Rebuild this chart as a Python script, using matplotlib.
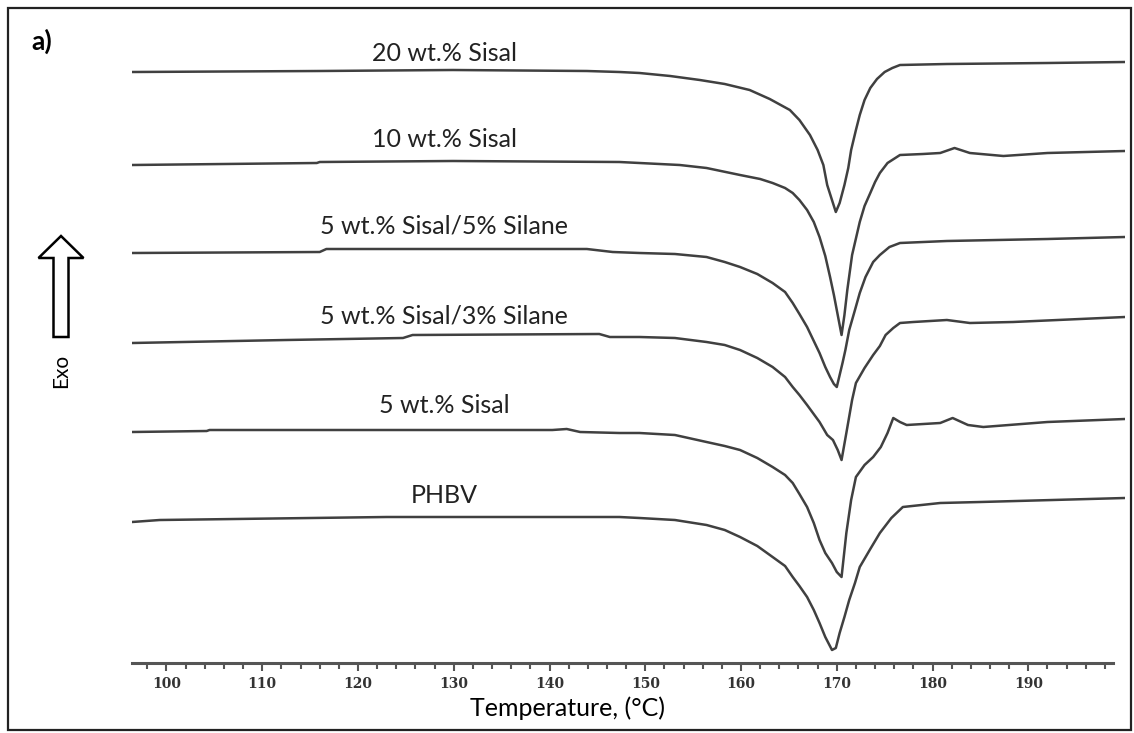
import matplotlib
matplotlib.use("Agg")
import matplotlib.pyplot as plt
from matplotlib.patches import FancyArrow, Rectangle

# DSC heating curves, heat flow in arbitrary units (curves stacked)
labels = ["20 wt.% Sisal", "10 wt.% Sisal", "5 wt.% Sisal/5% Silane",
          "5 wt.% Sisal/3% Silane", "5 wt.% Sisal", "PHBV"]
label_y = [60.2, 51.6, 43.0, 34.0, 25.0, 16.0]

t_20 = [96.4, 116.0, 129.9, 143.9, 147.3, 149.4, 152.6, 155.7, 158.3, 160.9, 163.0, 165.1,
        166.1, 167.2, 168.0, 168.6, 169.0, 169.5, 169.9, 170.3, 170.8, 171.2, 171.5, 172.0,
        172.4, 172.9, 173.5, 174.2, 175.0, 175.8, 176.6, 181.5, 192.0, 200.1]
hf_20 = [59.1, 59.2, 59.3, 59.2, 59.1, 59.0, 58.7, 58.3, 57.9, 57.3, 56.4, 55.3,
         54.3, 52.8, 51.3, 49.8, 47.8, 46.3, 45.1, 46.0, 47.8, 49.5, 51.3, 53.3,
         54.8, 56.3, 57.5, 58.4, 59.1, 59.5, 59.8, 59.9, 60.0, 60.1]

t_10 = [96.4, 115.7, 116.0, 129.9, 147.3, 149.4, 153.6, 156.4, 159.9, 162.0, 163.3, 164.6,
        165.4, 166.1, 166.9, 167.6, 168.2, 168.8, 169.3, 169.7, 170.0, 170.5, 170.8, 171.1,
        171.6, 172.4, 172.9, 173.5, 174.0, 174.5, 175.3, 176.6, 179.0, 180.8, 182.3, 183.9,
        187.4, 192.0, 200.1]
hf_10 = [49.8, 50.0, 50.1, 50.2, 50.1, 50.0, 49.8, 49.5, 48.8, 48.4, 48.0, 47.5,
         47.0, 46.3, 45.3, 44.1, 42.6, 40.7, 38.6, 36.8, 35.3, 32.8, 34.8, 37.3,
         40.8, 44.1, 45.7, 47.0, 48.1, 49.0, 50.0, 50.8, 50.9, 51.0, 51.5, 51.0,
         50.7, 51.0, 51.2]

t_5s5 = [96.4, 116.0, 116.7, 143.9, 146.6, 149.4, 153.1, 156.4, 158.3, 159.9, 161.7, 163.3,
         164.6, 165.4, 166.1, 166.9, 167.6, 168.2, 168.8, 169.3, 169.7, 170.0, 170.3, 170.6,
         170.9, 171.3, 171.9, 172.4, 173.0, 173.8, 174.5, 175.5, 176.6, 181.5, 192.0, 200.1]
hf_5s5 = [41.0, 41.1, 41.4, 41.4, 41.1, 41.0, 40.9, 40.6, 40.1, 39.6, 38.9, 38.0,
          37.1, 36.0, 34.9, 33.6, 32.2, 31.0, 29.6, 28.6, 27.9, 27.6, 28.8, 30.0,
          31.3, 33.3, 35.3, 37.0, 38.6, 40.1, 40.8, 41.6, 42.0, 42.2, 42.4, 42.6]

t_5s3 = [96.4, 112.5, 124.7, 125.7, 145.2, 146.3, 149.4, 153.1, 156.4, 158.3, 159.9, 161.7,
         163.3, 164.6, 165.4, 166.1, 166.9, 168.2, 169.0, 169.6, 170.1, 170.5, 171.0, 171.6,
         172.0, 172.9, 173.8, 174.5, 175.1, 175.9, 176.6, 178.0, 181.5, 183.9, 188.4, 200.1]
hf_5s3 = [32.0, 32.3, 32.5, 32.8, 32.9, 32.6, 32.6, 32.5, 32.1, 31.8, 31.3, 30.5,
          29.6, 28.6, 27.6, 26.8, 25.8, 24.1, 22.8, 22.3, 21.3, 20.3, 23.0, 26.3,
          28.0, 29.5, 30.8, 31.7, 32.8, 33.5, 34.0, 34.1, 34.3, 34.0, 34.1, 34.6]

t_5 = [96.4, 104.2, 104.5, 140.3, 141.8, 143.2, 147.3, 149.4, 153.1, 156.4, 158.3, 159.9,
       161.7, 163.3, 164.6, 165.4, 166.1, 166.9, 167.6, 168.2, 168.8, 169.5, 170.0, 170.5,
       171.0, 171.5, 172.0, 172.9, 173.8, 174.6, 175.3, 175.9, 176.6, 177.3, 180.8, 182.1,
       183.7, 185.3, 192.0, 200.1]
hf_5 = [23.1, 23.2, 23.3, 23.3, 23.4, 23.1, 23.0, 23.0, 22.8, 22.1, 21.7, 21.3,
        20.5, 19.6, 18.8, 18.0, 16.9, 15.6, 14.0, 12.3, 11.0, 10.0, 9.1, 8.6,
        13.0, 16.3, 18.6, 19.8, 20.6, 21.6, 23.0, 24.5, 24.1, 23.8, 24.0, 24.5,
        23.8, 23.6, 24.1, 24.4]

t_phbv = [96.4, 99.3, 123.0, 136.9, 147.3, 149.4, 153.1, 156.4, 158.3, 159.9, 161.7, 163.3,
          164.6, 165.4, 166.1, 166.9, 167.6, 168.2, 168.8, 169.5, 169.9, 170.3, 170.8, 171.3,
          171.9, 172.4, 173.5, 174.5, 175.7, 176.9, 180.8, 185.0, 200.1]
hf_phbv = [14.1, 14.3, 14.6, 14.6, 14.6, 14.5, 14.3, 13.8, 13.3, 12.6, 11.7, 10.6,
           9.7, 8.6, 7.7, 6.6, 5.3, 4.0, 2.6, 1.3, 1.5, 3.0, 4.6, 6.3,
           8.0, 9.6, 11.4, 13.0, 14.5, 15.6, 16.0, 16.1, 16.5]

curves = [(t_20, hf_20), (t_10, hf_10), (t_5s5, hf_5s5),
          (t_5s3, hf_5s3), (t_5, hf_5), (t_phbv, hf_phbv)]

W, H = 1134, 733
fig = plt.figure(figsize=(W / 100, H / 100), dpi=100)
ax = fig.add_axes([132 / W, 1 - 663 / H, (1125 - 132) / W, (663 - 20) / H])

line_col = "#404040"
for t, hf in curves:
    ax.plot(t, hf, color=line_col, lw=1.8, solid_joinstyle="round")

for lab, y in zip(labels, label_y):
    ax.text(129.0, y, lab, ha="center", va="baseline", fontsize=18,
            family="Lato", color="#222222")

ax.set_xlim(96.4, 200.1)
ax.set_ylim(0, 64.3)
ax.set_yticks([])
for s in ["top", "right", "left"]:
    ax.spines[s].set_visible(False)
ax.spines["bottom"].set_color("#555555")
ax.spines["bottom"].set_linewidth(2.2)
ax.spines["bottom"].set_bounds(96.4, 198.8)

ax.set_xticks(range(100, 200, 10))
ax.set_xticks(range(98, 200, 2), minor=True)
ax.tick_params(axis="x", which="major", direction="out", length=6, width=1.5,
               color="#555555", pad=4)
ax.tick_params(axis="x", which="minor", direction="out", length=4, width=1.5,
               color="#555555")
for lbl in ax.get_xticklabels():
    lbl.set_fontfamily("DejaVu Serif")
    lbl.set_fontweight("bold")
    lbl.set_fontsize(10)
    lbl.set_color("#333333")
ax.set_xlabel("Temperature, (°C)", fontsize=18, family="Lato", va="center")
ax.xaxis.set_label_coords(0.439, -0.070)

# exo arrow and panel tag
fig.add_artist(FancyArrow(61 / W, 1 - 337 / H, 0, (337 - 236) / H, width=15 / W,
                          head_width=45 / W, head_length=22 / H,
                          length_includes_head=True, transform=fig.transFigure,
                          facecolor="white", edgecolor="black", lw=1.8))
fig.text(61 / W, 1 - 371 / H, "Exo", rotation=90, ha="center", va="center",
         fontsize=15, family="Lato")
fig.text(42 / W, 1 - 41 / H, "a)", ha="center", va="center", fontsize=19,
         family="Lato", weight="bold")

fig.add_artist(Rectangle((8 / W, 3 / H), (1131 - 8) / W, (725 - 3) / H,
                         transform=fig.transFigure, fill=False,
                         edgecolor="#222222", lw=1.6))

fig.savefig("out.png", dpi=100)
